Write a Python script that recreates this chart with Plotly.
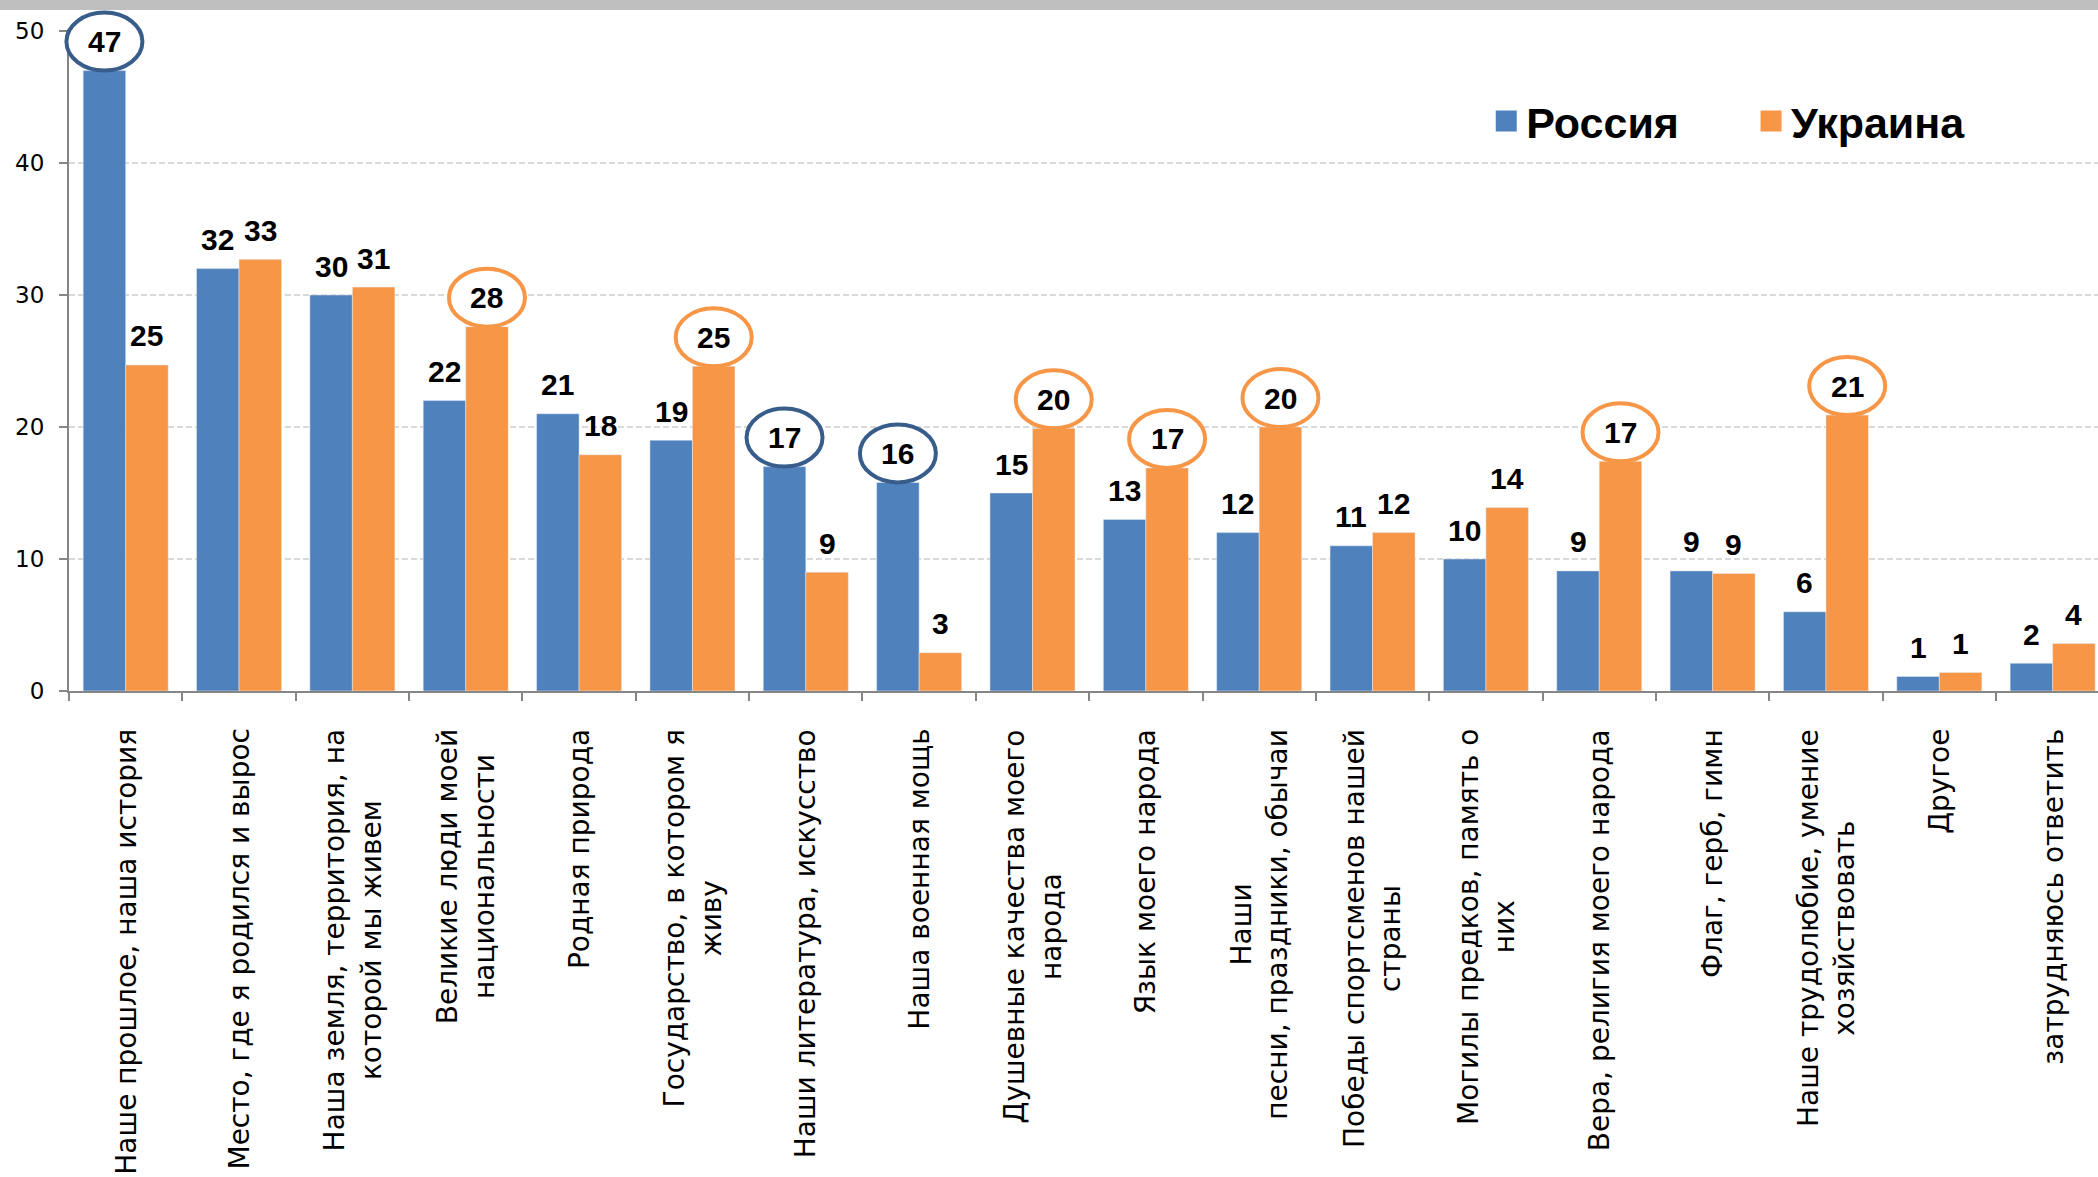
import plotly.graph_objects as go

categories = [
    "Наше прошлое, наша история",
    "Место, где я родился и вырос",
    "Наша земля, территория, на<br>которой мы живем",
    "Великие люди моей<br>национальности",
    "Родная природа",
    "Государство, в котором я<br>живу",
    "Наши литература, искусство",
    "Наша военная мощь",
    "Душевные качества моего<br>народа",
    "Язык моего народа",
    "Наши<br>песни, праздники, обычаи",
    "Победы спортсменов нашей<br>страны",
    "Могилы предков, память о<br>них",
    "Вера, религия моего народа",
    "Флаг, герб, гимн",
    "Наше трудолюбие, умение<br>хозяйствовать",
    "Другое",
    "затрудняюсь ответить",
]
russia = [47.0, 32.0, 30.0, 22.0, 21.0, 19.0, 17.0, 15.8, 15.0, 13.0, 12.0, 11.0, 10.0, 9.1, 9.1, 6.0, 1.1, 2.1]
ukraine = [24.7, 32.7, 30.6, 27.6, 17.9, 24.6, 9.0, 2.9, 19.9, 16.9, 20.0, 12.0, 13.9, 17.4, 8.9, 20.9, 1.4, 3.6]
russia_circled = [0, 6, 7]
ukraine_circled = [3, 5, 8, 9, 10, 13, 15]
series_names = ["Россия", "Украина"]
y_ticks = [0, 10, 20, 30, 40, 50]

BLUE = "#4F81BD"
ORANGE = "#F79646"
BLUE_RING = "#385D8A"
ORANGE_RING = "#F79646"
AXIS = "#868686"
LAB_FONT = "Liberation Sans, Arial, sans-serif"
XLAB_FONT = "DejaVu Sans, sans-serif"

BARGAP = 0.25
off = (1 - BARGAP) / 4
X_RANGE = [-0.5, 17.4]
Y_RANGE = [0, 50]

fig = go.Figure()
fig.add_trace(go.Bar(x=categories, y=russia, name=series_names[0], marker_color=BLUE,
                     showlegend=False, hoverinfo="skip"))
fig.add_trace(go.Bar(x=categories, y=ukraine, name=series_names[1], marker_color=ORANGE,
                     showlegend=False, hoverinfo="skip"))

# legend entries (larger square symbols)
fig.add_trace(go.Scatter(x=[None], y=[None], mode="markers", name=series_names[0],
                         marker=dict(symbol="square", size=16, color=BLUE, line=dict(color=BLUE, width=5)),
                         legend="legend"))
fig.add_trace(go.Scatter(x=[None], y=[None], mode="markers", name=series_names[1],
                         marker=dict(symbol="square", size=16, color=ORANGE, line=dict(color=ORANGE, width=5)),
                         legend="legend2"))

annotations = []
shapes = []


def to_paper_x(x):
    return (x - X_RANGE[0]) / (X_RANGE[1] - X_RANGE[0])


def to_paper_y(y):
    return (y - Y_RANGE[0]) / (Y_RANGE[1] - Y_RANGE[0])


# data labels and highlight rings
for series, sign, circled, ring in [(russia, -1, russia_circled, BLUE_RING),
                                     (ukraine, 1, ukraine_circled, ORANGE_RING)]:
    for i, v in enumerate(series):
        xpos = i + sign * off
        if i in circled:
            shapes.append(dict(type="circle", xref="paper", yref="paper",
                               xsizemode="pixel", ysizemode="pixel",
                               xanchor=to_paper_x(xpos), yanchor=to_paper_y(v),
                               x0=-38, x1=38, y0=0, y1=58,
                               fillcolor="white", line=dict(color=ring, width=4), layer="above"))
        annotations.append(dict(x=xpos, y=v, xref="x", yref="y", text=f"{v:.0f}", showarrow=False,
                                yanchor="middle", yshift=29,
                                font=dict(family=LAB_FONT, size=30, color="black", weight="bold")))

# category labels (rotated, centred lines)
for i, c in enumerate(categories):
    annotations.append(dict(x=i, y=0, xref="x", yref="paper", text=c, showarrow=False,
                            textangle=-90, xanchor="center", yanchor="top", yshift=-36,
                            align="center", font=dict(family=XLAB_FONT, size=28, color="black")))

# top grey band
shapes.append(dict(type="rect", xref="paper", yref="paper", x0=-0.05, x1=1.01,
                   y0=1 + 21 / 660, y1=1.08, fillcolor="#BFBFBF", line=dict(width=0), layer="below"))

legend_common = dict(orientation="h", y=0.8635, yanchor="middle", xanchor="left",
                     font=dict(family=LAB_FONT, size=43, color="black", weight="bold"),
                     bgcolor="rgba(0,0,0,0)", borderwidth=0)

fig.update_layout(
    width=2098, height=1177,
    margin=dict(l=69, r=0, t=31, b=486, pad=0),
    paper_bgcolor="white", plot_bgcolor="white",
    barmode="group", bargap=BARGAP, bargroupgap=0,
    annotations=annotations, shapes=shapes,
    font=dict(family=LAB_FONT, color="black"),
    legend=dict(x=0.6985, **legend_common),
    legend2=dict(x=0.829, **legend_common),
    xaxis=dict(type="category", categoryorder="array", categoryarray=categories,
               range=X_RANGE, showline=True, linecolor=AXIS, linewidth=2,
               ticks="outside", tickson="boundaries", ticklen=8, tickcolor=AXIS, tickwidth=2,
               showticklabels=False, showgrid=False, zeroline=False),
    yaxis=dict(range=Y_RANGE, tickvals=y_ticks, showgrid=True, gridcolor="#D9D9D9", gridwidth=2,
               griddash="6px,3px", showline=True, linecolor=AXIS, linewidth=2,
               ticks="outside", ticklen=8, tickcolor=AXIS, tickwidth=2,
               tickfont=dict(family=XLAB_FONT, size=23, color="black"),
               ticklabelstandoff=10, zeroline=False),
)

fig.write_html("out.html", config={"displayModeBar": False},
               post_script="document.body.style.margin='0';document.body.style.overflow='hidden';")
